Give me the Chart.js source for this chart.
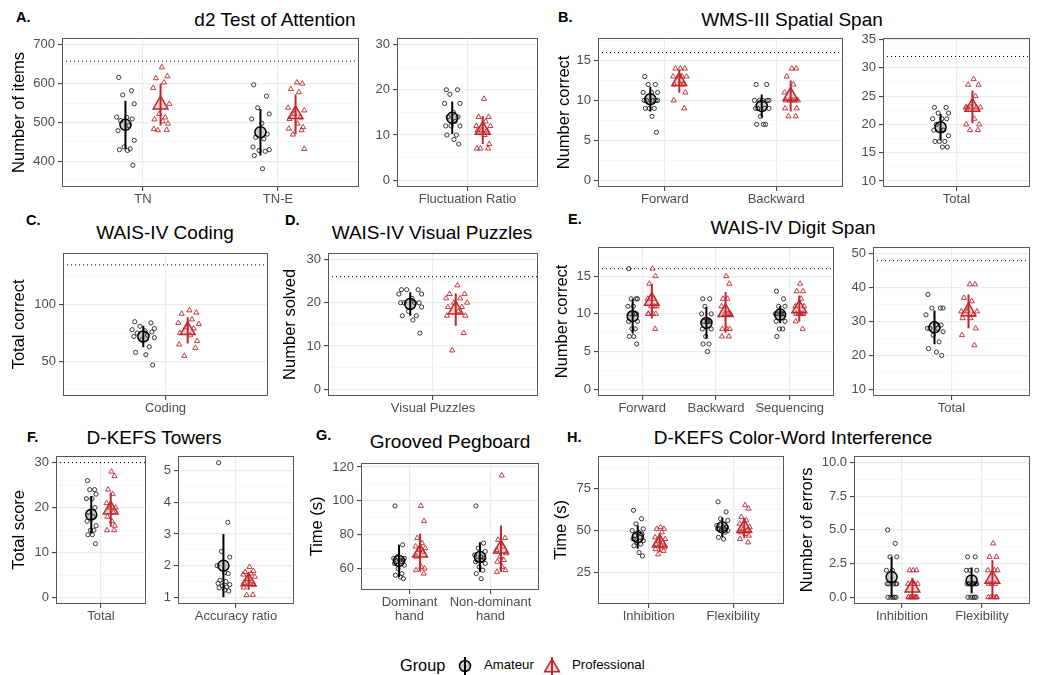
<!DOCTYPE html>
<html>
<head>
<meta charset="utf-8">
<script src="https://cdn.jsdelivr.net/npm/chart.js@4.4.1/dist/chart.umd.min.js"></script>
<style>
  body { margin: 0; width: 1040px; height: 675px; background: #fff; position: relative; overflow: hidden;
         font-family: "Liberation Sans", Arial, sans-serif; }
  canvas { position: absolute; }
  .title { position: absolute; font-size: 19px; color: #000; line-height: 1; white-space: nowrap; transform: translate(-50%, -50%); }
  .letter { position: absolute; font-size: 14.5px; font-weight: bold; color: #000; line-height: 1; transform: translateY(-50%); }
  .legend { position: absolute; left: 0; top: 652px; width: 1040px; height: 26px; }
  .legend span { position: absolute; top: 13px; transform: translateY(-50%); line-height: 1; color: #000; }
</style>
</head>
<body>
<div class="legend">
  <span style="left:400px;font-size:16.3px">Group</span>
  <svg style="position:absolute;left:455px;top:3px" width="20" height="22">
    <line x1="10" y1="2" x2="10" y2="20" stroke="#000" stroke-width="2"/>
    <circle cx="10" cy="11" r="5.5" fill="rgba(0,0,0,0.2)" stroke="#000" stroke-width="1.5"/>
  </svg>
  <span style="left:484px;font-size:13.2px">Amateur</span>
  <svg style="position:absolute;left:542px;top:3px" width="20" height="22">
    <line x1="10" y1="2" x2="10" y2="20" stroke="#c0272d" stroke-width="2"/>
    <polygon points="10,4 17.4,16.8 2.6,16.8" fill="rgba(192,39,45,0.2)" stroke="#c0272d" stroke-width="1.5"/>
  </svg>
  <span style="left:572px;font-size:13.2px">Professional</span>
</div>
<script>
// ---- data ----
// A. d2 Test of Attention
const D2_CATS = ['TN', 'TN-E'];
const D2_AMA = [[616, 582, 571, 548, 514, 513, 509, 505, 492, 479, 454, 437, 432, 430, 428, 390],
                [597, 568, 538, 522, 509, 498, 470, 462, 458, 437, 430, 428, 426, 415, 381]];
const D2_PRO = [[642, 619, 614, 603, 589, 548, 522, 513, 508, 503, 497, 483, 481, 480],
                [603, 600, 586, 578, 538, 531, 522, 513, 509, 497, 488, 484, 480, 469, 432]];
const D2_AMA_MEAN = [494, 475], D2_AMA_SD = [62, 60];
const D2_PRO_MEAN = [546, 521], D2_PRO_SD = [54, 51];
const D2_Y = [400, 500, 600, 700];
const D2_MAX = 658;

const FR_CATS = ['Fluctuation Ratio'];
const FR_AMA = [[20, 20, 19, 17, 17, 15, 14, 14, 13, 12, 12, 12, 10, 10, 9, 8]];
const FR_PRO = [[18, 14, 14, 13, 12, 12, 11, 11, 11, 10, 8, 7, 7, 7]];
const FR_AMA_MEAN = [13.8], FR_AMA_SD = [3.6];
const FR_PRO_MEAN = [11.1], FR_PRO_SD = [3.1];
const FR_Y = [0, 10, 20, 30];

// B. WMS-III Spatial Span
const SS_CATS = ['Forward', 'Backward'];
const SS_AMA = [[13, 12, 12, 11, 11, 11, 10, 10, 10, 10, 10, 9, 9, 9, 8, 6],
                [12, 12, 10, 10, 10, 10, 10, 9, 9, 9, 9, 8, 7, 7, 7]];
const SS_PRO = [[14, 14, 14, 13, 13, 13, 13, 12, 12, 12, 11, 10, 9],
                [14, 14, 13, 12, 11, 10, 10, 10, 10, 10, 9, 9, 8, 8]];
const SS_AMA_MEAN = [10.15, 9.3], SS_AMA_SD = [1.55, 1.45];
const SS_PRO_MEAN = [12.4, 10.55], SS_PRO_SD = [1.45, 1.95];
const SS_Y = [0, 5, 10, 15];
const SS_MAX = 16;

const SST_CATS = ['Total'];
const SST_AMA = [[23, 23, 22, 22, 21, 21, 21, 20, 19, 19, 18, 17, 17, 17, 16, 16]];
const SST_PRO = [[28, 27, 27, 25, 23, 23, 23, 23, 23, 21, 20, 20, 19, 19]];
const SST_AMA_MEAN = [19.5], SST_AMA_SD = [2.35];
const SST_PRO_MEAN = [23.1], SST_PRO_SD = [2.9];
const SST_Y = [10, 15, 20, 25, 30, 35];
const SST_MAX = 32;

// C. WAIS-IV Coding
const CD_CATS = ['Coding'];
const CD_AMA = [[85, 84, 81, 79, 78, 77, 76, 75, 73, 72, 71, 69, 63, 58, 56, 47]];
const CD_PRO = [[95, 93, 92, 87, 84, 83, 80, 79, 75, 73, 68, 65, 62, 55]];
const CD_AMA_MEAN = [72], CD_AMA_SD = [9.5];
const CD_PRO_MEAN = [77.4], CD_PRO_SD = [11.6];
const CD_Y = [50, 100];
const CD_MAX = 135;

// D. WAIS-IV Visual Puzzles
const VP_CATS = ['Visual Puzzles'];
const VP_AMA = [[23, 23, 23, 22, 22, 21, 20, 20, 20, 20, 19, 18, 17, 17, 16, 13]];
const VP_PRO = [[24, 22, 22, 21, 21, 20, 20, 19, 19, 18, 17, 17, 13, 9]];
const VP_AMA_MEAN = [19.7], VP_AMA_SD = [2.7];
const VP_PRO_MEAN = [18.4], VP_PRO_SD = [3.7];
const VP_Y = [0, 10, 20, 30];
const VP_MAX = 26;

// E. WAIS-IV Digit Span
const DS_CATS = ['Forward', 'Backward', 'Sequencing'];
const DS_AMA = [[16, 12, 12, 12, 11, 11, 10, 10, 10, 9, 9, 8, 8, 7, 7, 6],
                [12, 12, 11, 10, 10, 9, 9, 9, 9, 8, 8, 7, 6, 6, 5],
                [13, 12, 11, 11, 10, 10, 10, 10, 10, 9, 9, 8, 8, 7]];
const DS_PRO = [[16, 15, 14, 12, 12, 11, 11, 11, 10, 10, 10, 10, 8],
                [15, 14, 12, 12, 11, 10, 10, 10, 8, 8, 8, 7, 7],
                [14, 13, 13, 12, 11, 11, 10, 10, 10, 10, 10, 9, 8]];
const DS_AMA_MEAN = [9.7, 8.8, 9.9], DS_AMA_SD = [2.3, 2.1, 1.15];
const DS_PRO_MEAN = [11.7, 10.2, 10.7], DS_PRO_SD = [2.3, 2.7, 1.75];
const DS_Y = [0, 5, 10, 15];
const DS_MAX = 16;

const DST_CATS = ['Total'];
const DST_AMA = [[38, 34, 34, 34, 32, 29, 29, 28, 28, 28, 27, 26, 24, 22, 21, 20]];
const DST_PRO = [[41, 41, 37, 36, 33, 33, 33, 32, 31, 31, 28, 26, 23]];
const DST_AMA_MEAN = [28.3], DST_AMA_SD = [5];
const DST_PRO_MEAN = [33], DST_PRO_SD = [5];
const DST_Y = [10, 20, 30, 40, 50];
const DST_MAX = 48;

// F. D-KEFS Towers
const TW_CATS = ['Total'];
const TW_AMA = [[26, 24, 24, 23, 22, 22, 20, 19, 18, 17, 16, 15, 15, 14, 14, 12]];
const TW_PRO = [[28, 27, 24, 23, 21, 20, 20, 19, 18, 17, 16, 15, 15]];
const TW_AMA_MEAN = [18.45], TW_AMA_SD = [4.15];
const TW_PRO_MEAN = [19.55], TW_PRO_SD = [3.75];
const TW_Y = [0, 10, 20, 30];
const TW_MAX = 30;

const AR_CATS = ['Accuracy ratio'];
const AR_AMA = [[5.25, 3.37, 2.45, 2.27, 2.0, 1.78, 1.75, 1.54, 1.5, 1.44, 1.4, 1.36, 1.33, 1.3, 1.23, 1.2]];
const AR_PRO = [[1.96, 1.83, 1.8, 1.75, 1.72, 1.65, 1.58, 1.5, 1.46, 1.44, 1.4, 1.31, 1.08, 1.07]];
const AR_AMA_MEAN = [2.0], AR_AMA_SD = [1.0];
const AR_PRO_MEAN = [1.5], AR_PRO_SD = [0.26];
const AR_Y = [1, 2, 3, 4, 5];

// G. Grooved Pegboard
const PB_CATS = [['Dominant', 'hand'], ['Non-dominant', 'hand']];
const PB_AMA = [[97, 74, 67, 66, 66, 65, 65, 64, 64, 63, 62, 60, 57, 56, 55, 54],
                [97, 75, 72, 70, 68, 67, 66, 65, 65, 64, 63, 61, 59, 57, 54]];
const PB_PRO = [[97, 88, 78, 75, 73, 72, 71, 70, 67, 61, 60, 59, 57],
                [115, 78, 77, 73, 71, 69, 67, 65, 64, 61, 59, 58]];
const PB_AMA_MEAN = [64.5, 66.8], PB_AMA_SD = [9.5, 8.8];
const PB_PRO_MEAN = [69.3, 71.7], PB_PRO_SD = [11.2, 13.7];
const PB_Y = [60, 80, 100, 120];

// H. D-KEFS Color-Word Interference
const CW_CATS = ['Inhibition', 'Flexibility'];
const CW_AMA = [[62, 57, 54, 51, 50, 49, 48, 47, 46, 45, 44, 43, 42, 41, 37, 35],
                [67, 61, 57, 56, 53, 52, 52, 51, 51, 51, 50, 50, 49, 46, 45]];
const CW_PRO = [[52, 51, 51, 49, 46, 45, 44, 43, 42, 41, 40, 39, 38, 36],
                [65, 63, 58, 56, 54, 52, 51, 50, 49, 48, 47, 45, 43]];
const CW_AMA_MEAN = [46.1, 51.9], CW_AMA_SD = [6.9, 5.7];
const CW_PRO_MEAN = [42.8, 51.5], CW_PRO_SD = [5.4, 6];
const CW_Y = [25, 50, 75];

const CWE_CATS = ['Inhibition', 'Flexibility'];
const CWE_AMA = [[5, 4, 3, 3, 2, 2, 1, 1, 1, 1, 1, 0, 0, 0, 0, 0],
                 [3, 3, 2, 2, 2, 1, 1, 1, 1, 1, 1, 0, 0, 0, 0, 0]];
const CWE_PRO = [[2, 2, 2, 1, 1, 1, 0, 0, 0, 0, 0, 0, 0, 0],
                 [4, 3, 3, 2, 2, 2, 1, 1, 1, 0, 0, 0, 0, 0]];
const CWE_AMA_MEAN = [1.5, 1.25], CWE_AMA_SD = [1.5, 0.95];
const CWE_PRO_MEAN = [0.7, 1.35], CWE_PRO_SD = [0.75, 1.4];
const CWE_Y = [0, 2.5, 5, 7.5, 10];

// ---- layout ----
const RED = '#c0272d';
const DODGE = 0.13;
const JIT = [-0.05, 0.045, -0.02, 0.065, -0.065, 0.01, 0.05, -0.035, 0.025, -0.055, 0.065, -0.01, 0.035, -0.045, 0.015, 0.055];

const PANELS = [
  { l: 62, t: 37, r: 359, b: 187, ytx: 20, yTitle: 'Number of items', ymin: 334, ymax: 718,
    cats: D2_CATS, ama: D2_AMA, pro: D2_PRO, am: D2_AMA_MEAN, as: D2_AMA_SD, pm: D2_PRO_MEAN, ps: D2_PRO_SD, yt: D2_Y, max: D2_MAX },
  { l: 397, t: 37, r: 538, b: 187, yw: 32, ymin: -1.5, ymax: 31.5,
    cats: FR_CATS, ama: FR_AMA, pro: FR_PRO, am: FR_AMA_MEAN, as: FR_AMA_SD, pm: FR_PRO_MEAN, ps: FR_PRO_SD, yt: FR_Y },
  { l: 598, t: 37, r: 843, b: 187, ytx: 565, yTitle: 'Number correct', ymin: -0.85, ymax: 17.85,
    cats: SS_CATS, ama: SS_AMA, pro: SS_PRO, am: SS_AMA_MEAN, as: SS_AMA_SD, pm: SS_PRO_MEAN, ps: SS_PRO_SD, yt: SS_Y, max: SS_MAX },
  { l: 883, t: 37, r: 1030, b: 187, yw: 32, ymin: 8.95, ymax: 35.3,
    cats: SST_CATS, ama: SST_AMA, pro: SST_PRO, am: SST_AMA_MEAN, as: SST_AMA_SD, pm: SST_PRO_MEAN, ps: SST_PRO_SD, yt: SST_Y, max: SST_MAX },
  { l: 63, t: 252, r: 268, b: 396, ytx: 20, yTitle: 'Total correct', ymin: 19.7, ymax: 145.6,
    cats: CD_CATS, ama: CD_AMA, pro: CD_PRO, am: CD_AMA_MEAN, as: CD_AMA_SD, pm: CD_PRO_MEAN, ps: CD_PRO_SD, yt: CD_Y, max: CD_MAX },
  { l: 328, t: 252, r: 538, b: 396, ytx: 291, yTitle: 'Number solved', ymin: -1.5, ymax: 31.5,
    cats: VP_CATS, ama: VP_AMA, pro: VP_PRO, am: VP_AMA_MEAN, as: VP_AMA_SD, pm: VP_PRO_MEAN, ps: VP_PRO_SD, yt: VP_Y, max: VP_MAX },
  { l: 598, t: 246, r: 834, b: 396, ytx: 563, yTitle: 'Number correct', ymin: -0.9, ymax: 18.9,
    cats: DS_CATS, ama: DS_AMA, pro: DS_PRO, am: DS_AMA_MEAN, as: DS_AMA_SD, pm: DS_PRO_MEAN, ps: DS_PRO_SD, yt: DS_Y, max: DS_MAX },
  { l: 873, t: 246, r: 1030, b: 396, yw: 32, ymin: 8.0, ymax: 52.1,
    cats: DST_CATS, ama: DST_AMA, pro: DST_PRO, am: DST_AMA_MEAN, as: DST_AMA_SD, pm: DST_PRO_MEAN, ps: DST_PRO_SD, yt: DST_Y, max: DST_MAX },
  { l: 56, t: 455, r: 146, b: 604, ytx: 20, yTitle: 'Total score', ymin: -1.35, ymax: 31.5,
    cats: TW_CATS, ama: TW_AMA, pro: TW_PRO, am: TW_AMA_MEAN, as: TW_AMA_SD, pm: TW_PRO_MEAN, ps: TW_PRO_SD, yt: TW_Y, max: TW_MAX },
  { l: 178, t: 455, r: 294, b: 604, yw: 24, ymin: 0.79, ymax: 5.47,
    cats: AR_CATS, ama: AR_AMA, pro: AR_PRO, am: AR_AMA_MEAN, as: AR_AMA_SD, pm: AR_PRO_MEAN, ps: AR_PRO_SD, yt: AR_Y },
  { l: 361, t: 462, r: 539, b: 590, ytx: 318, yTitle: 'Time (s)', ymin: 47.3, ymax: 122.5, xh: 42,
    cats: PB_CATS, ama: PB_AMA, pro: PB_PRO, am: PB_AMA_MEAN, as: PB_AMA_SD, pm: PB_PRO_MEAN, ps: PB_PRO_SD, yt: PB_Y },
  { l: 598, t: 455, r: 784, b: 604, ytx: 562, yTitle: 'Time (s)', ymin: 6.6, ymax: 94.2,
    cats: CW_CATS, ama: CW_AMA, pro: CW_PRO, am: CW_AMA_MEAN, as: CW_AMA_SD, pm: CW_PRO_MEAN, ps: CW_PRO_SD, yt: CW_Y },
  { l: 854, t: 455, r: 1030, b: 604, ytx: 808, yTitle: 'Number of errors', ymin: -0.5, ymax: 10.5, dec: 1,
    cats: CWE_CATS, ama: CWE_AMA, pro: CWE_PRO, am: CWE_AMA_MEAN, as: CWE_AMA_SD, pm: CWE_PRO_MEAN, ps: CWE_PRO_SD, yt: CWE_Y }
];

const TITLES = [
  ['d2 Test of Attention', 275, 19], ['WMS-III Spatial Span', 792, 19],
  ['WAIS-IV Coding', 165, 232], ['WAIS-IV Visual Puzzles', 432, 232], ['WAIS-IV Digit Span', 793, 227],
  ['D-KEFS Towers', 154, 437], ['Grooved Pegboard', 450, 441], ['D-KEFS Color-Word Interference', 793, 437]
];
const LETTERS = [['A.', 16, 17], ['B.', 558, 17], ['C.', 26, 220], ['D.', 285, 220], ['E.', 568, 219],
                 ['F.', 27, 437], ['G.', 316, 435], ['H.', 567, 437]];

TITLES.forEach(([txt, x, y]) => {
  const d = document.createElement('div');
  d.className = 'title'; d.textContent = txt;
  d.style.left = x + 'px'; d.style.top = y + 'px';
  document.body.appendChild(d);
});
LETTERS.forEach(([txt, x, y]) => {
  const d = document.createElement('div');
  d.className = 'letter'; d.textContent = txt;
  d.style.left = x + 'px'; d.style.top = y + 'px';
  document.body.appendChild(d);
});

Chart.defaults.font.family = '"Liberation Sans", Arial, sans-serif';
Chart.defaults.color = '#4d4d4d';

// panel border drawn round the plot area
const frame = {
  id: 'frame',
  afterDraw(chart) {
    const a = chart.chartArea, ctx = chart.ctx;
    ctx.save();
    ctx.strokeStyle = '#585858';
    ctx.lineWidth = 1;
    ctx.strokeRect(Math.round(a.left) + 0.5, Math.round(a.top) + 0.5,
                   Math.round(a.right - a.left) - 1, Math.round(a.bottom - a.top) - 1);
    ctx.restore();
  }
};

function minorOf(major, lo, hi) {
  const step = major[1] - major[0];
  const out = [];
  for (let i = -1; i < major.length; i++) {
    const v = (i < 0 ? major[0] - step : major[i]) + step / 2;
    if (v > lo && v < hi) out.push(v);
  }
  return out;
}

function buildPanel(p) {
  const PAD = 10;
  const n = p.cats.length;
  const left = p.ytx != null ? Math.round(p.ytx - 10) : p.l - p.yw;
  const yw = p.l - left;
  const xh = p.xh || 30;
  const cv = document.createElement('canvas');
  cv.width = p.r - p.l + yw + PAD;
  cv.height = p.b - p.t + PAD + xh;
  cv.style.left = left + 'px';
  cv.style.top = (p.t - PAD) + 'px';
  document.body.appendChild(cv);

  const major = p.yt.filter(v => v >= p.ymin && v <= p.ymax);
  const majorSet = new Set(major);
  const yTicks = major.concat(minorOf(p.yt, p.ymin, p.ymax));
  const isMajor = c => c.tick && majorSet.has(c.tick.value);

  const datasets = [];
  if (p.max != null) {
    datasets.push({ data: [{ x: 0.4, y: p.max }, { x: n + 0.6, y: p.max }], showLine: true,
      borderColor: '#000', borderWidth: 1, borderDash: [1, 3], pointRadius: 0, order: 9 });
  }
  p.cats.forEach((c, i) => {
    const xa = i + 1 - DODGE, xp = i + 1 + DODGE;
    datasets.push({ data: p.ama[i].map((v, j) => ({ x: xa + JIT[j % JIT.length], y: v })),
      pointStyle: 'circle', pointRadius: 2.1, pointBorderWidth: 0.9,
      pointBorderColor: '#222', pointBackgroundColor: 'rgba(0,0,0,0)', order: 8 });
    datasets.push({ data: p.pro[i].map((v, j) => ({ x: xp + JIT[(j + 5) % JIT.length], y: v })),
      pointStyle: 'triangle', pointRadius: 3, pointBorderWidth: 0.9,
      pointBorderColor: RED, pointBackgroundColor: 'rgba(0,0,0,0)', order: 7 });
    datasets.push({ data: [{ x: xa, y: p.am[i] - p.as[i] }, { x: xa, y: p.am[i] + p.as[i] }], showLine: true,
      borderColor: '#000', borderWidth: 2, pointRadius: 0, order: 4 });
    datasets.push({ data: [{ x: xa, y: p.am[i] }], pointStyle: 'circle', pointRadius: 5.5, pointBorderWidth: 1.5,
      pointBorderColor: '#000', pointBackgroundColor: 'rgba(0,0,0,0.2)', order: 3 });
    datasets.push({ data: [{ x: xp, y: p.pm[i] - p.ps[i] }, { x: xp, y: p.pm[i] + p.ps[i] }], showLine: true,
      borderColor: RED, borderWidth: 2, pointRadius: 0, order: 2 });
    datasets.push({ data: [{ x: xp, y: p.pm[i] }], pointStyle: 'triangle', pointRadius: 8.5, pointBorderWidth: 1.5,
      pointBorderColor: RED, pointBackgroundColor: 'rgba(192,39,45,0.2)', order: 1 });
  });

  new Chart(cv, {
    type: 'scatter',
    data: { datasets },
    options: {
      responsive: false,
      animation: false,
      events: [],
      layout: { padding: { top: PAD, right: PAD, left: 0, bottom: 0 } },
      plugins: { legend: { display: false }, tooltip: { enabled: false } },
      scales: {
        x: {
          type: 'linear', min: 0.4, max: n + 0.6,
          afterBuildTicks: s => { s.ticks = p.cats.map((c, i) => ({ value: i + 1 })); },
          afterFit: s => { s.height = xh; },
          ticks: { callback: v => p.cats[v - 1], font: { size: 13, lineHeight: 1.1 }, color: '#4d4d4d',
                   padding: 1, maxRotation: 0, autoSkip: false },
          grid: { color: '#ebebeb', lineWidth: 1.2, tickLength: 4, tickColor: '#333', tickWidth: 1 },
          border: { display: false }
        },
        y: {
          type: 'linear', min: p.ymin, max: p.ymax,
          afterBuildTicks: s => { s.ticks = yTicks.map(v => ({ value: v })); },
          afterFit: s => { s.width = yw; },
          ticks: { callback: v => majorSet.has(v) ? (p.dec ? v.toFixed(p.dec) : String(v)) : '',
                   font: { size: 13 }, color: '#4d4d4d', padding: 3, autoSkip: false },
          grid: {
            color: c => isMajor(c) ? '#ebebeb' : '#f4f4f4',
            lineWidth: c => isMajor(c) ? 1.2 : 0.7,
            tickColor: c => isMajor(c) ? '#333' : 'rgba(0,0,0,0)',
            tickLength: 4, tickWidth: 1
          },
          title: { display: !!p.yTitle, text: p.yTitle || '', color: '#000',
                   font: { size: 16.5, lineHeight: 1.2 }, padding: 0 },
          border: { display: false }
        }
      }
    },
    plugins: [frame]
  });
}

PANELS.forEach(buildPanel);
</script>
</body>
</html>
